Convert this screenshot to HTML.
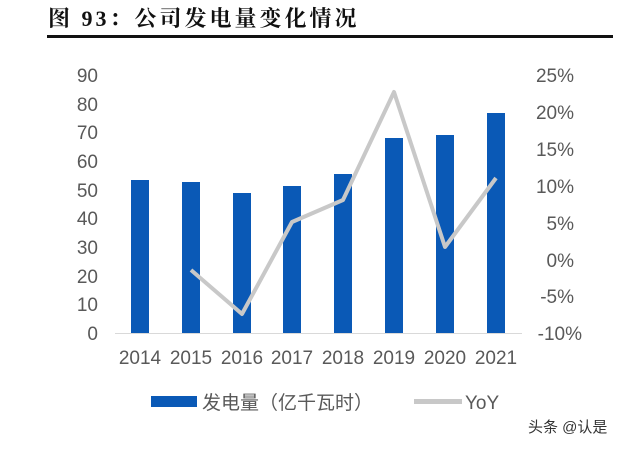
<!DOCTYPE html>
<html><head><meta charset="utf-8"><style>
body{margin:0;background:#fff;width:640px;height:445px;overflow:hidden}
</style></head><body>
<svg width="640" height="445" xmlns="http://www.w3.org/2000/svg" font-family="'Liberation Sans','Noto Sans CJK SC',sans-serif">
<text x="48" y="26" font-size="22" font-weight="bold" letter-spacing="3" font-family="'Liberation Serif','Noto Serif CJK SC',serif" fill="#111">图 93：公司发电量变化情况</text>
<rect x="47" y="35" width="566" height="3" fill="#111"/>
<line x1="115" y1="333.5" x2="522" y2="333.5" stroke="#d9d9d9" stroke-width="1"/>
<g fill="#0a59b6">
<rect x="131" y="180" width="18" height="153"/>
<rect x="182" y="182" width="18" height="151"/>
<rect x="233" y="193" width="18" height="140"/>
<rect x="283" y="186" width="18" height="147"/>
<rect x="334" y="174" width="18" height="159"/>
<rect x="385" y="138" width="18" height="195"/>
<rect x="436" y="135" width="18" height="198"/>
<rect x="487" y="113" width="18" height="220"/>
</g>
<polyline points="191,270 242,314 292,222 343,200 394,92 445,247 496,178" fill="none" stroke="#c8c8c8" stroke-width="4" stroke-linejoin="round"/>
<g font-size="19" fill="#595959" text-anchor="end">
<text x="98" y="82">90</text><text x="98" y="111">80</text><text x="98" y="139">70</text><text x="98" y="168">60</text><text x="98" y="197">50</text><text x="98" y="225">40</text><text x="98" y="254">30</text><text x="98" y="283">20</text><text x="98" y="311">10</text><text x="98" y="340">0</text>
</g>
<g font-size="19" fill="#595959" text-anchor="end">
<text x="574" y="82">25%</text><text x="574" y="119">20%</text><text x="574" y="156">15%</text><text x="574" y="193">10%</text><text x="574" y="230">5%</text><text x="574" y="267">0%</text><text x="574" y="303">-5%</text><text x="582" y="340">-10%</text>
</g>
<g font-size="19" fill="#595959" text-anchor="middle">
<text x="140" y="364">2014</text><text x="191" y="364">2015</text><text x="242" y="364">2016</text><text x="292" y="364">2017</text><text x="343" y="364">2018</text><text x="394" y="364">2019</text><text x="445" y="364">2020</text><text x="496" y="364">2021</text>
</g>
<rect x="151" y="396" width="46" height="11" fill="#0a59b6"/>
<text x="202" y="409" font-size="19" fill="#595959">发电量（亿千瓦时）</text>
<rect x="414" y="399" width="48" height="5" fill="#c8c8c8"/>
<text x="465" y="409" font-size="19" fill="#595959">YoY</text>
<text x="528" y="432" font-size="15" fill="#333">头条 @认是</text>
</svg>
</body></html>
